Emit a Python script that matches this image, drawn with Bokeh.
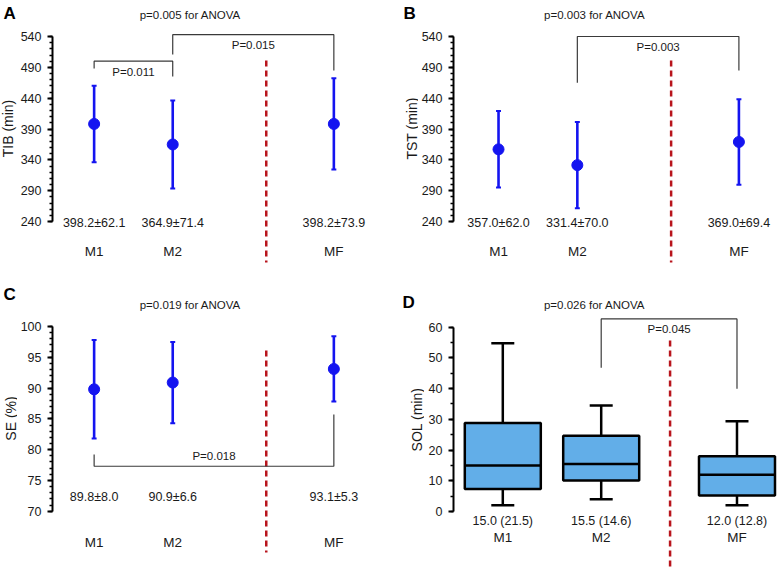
import numpy as np
from bokeh.plotting import figure
from bokeh.models import FixedTicker, ColumnDataSource, Range1d
from bokeh.layouts import column, row
from bokeh.core.properties import value
from bokeh.embed import file_html
from bokeh.resources import INLINE

# ---------------- data ----------------
groups = ["M1", "M2", "MF"]

tib_mean = [398.2, 364.9, 398.2]
tib_sd = [62.1, 71.4, 73.9]
tst_mean = [357.0, 331.4, 369.0]
tst_sd = [62.0, 70.0, 69.4]
se_mean = [89.8, 90.9, 93.1]
se_sd = [8.0, 6.6, 5.3]

sol_low = [2.0, 4.0, 2.0]
sol_q1 = [7.3, 10.1, 5.2]
sol_median = [15.0, 15.5, 12.0]
sol_q3 = [28.8, 24.7, 18.0]
sol_high = [54.8, 34.5, 29.4]
sol_iqr = [21.5, 14.6, 12.8]

anova_text = ["p=0.005 for ANOVA", "p=0.003 for ANOVA", "p=0.019 for ANOVA", "p=0.026 for ANOVA"]
panel_letters = ["A", "B", "C", "D"]
y_titles = ["TIB (min)", "TST (min)", "SE (%)", "SOL (min)"]

tib_ticks = [240, 290, 340, 390, 440, 490, 540]
se_ticks = [70, 75, 80, 85, 90, 95, 100]
sol_ticks = [0, 10, 20, 30, 40, 50, 60]

# pairwise comparisons: (group i, group j, bar level, leg end i, leg end j, label)
tib_pairs = [(0, 1, 500, 488, 475, "P=0.011"), (1, 2, 543, 511, 485, "P=0.015")]
tst_pairs = [(1, 2, 540, 465, 485, "P=0.003")]
se_pairs = [(0, 2, 77.3, 79.2, 85.7, "P=0.018")]
sol_pairs = [(1, 2, 62.7, 46.8, 40.0, "P=0.045")]

# ---------------- styling ----------------
BLUE = "#1414f0"
RED = "#b8141c"
TXT = "#1a1a1a"
FONT = "Liberation Sans"
BOX_FILL = "#62aee8"

pos_main = [1, 2, 4.05]
pos_sol = [1, 2, 3.38]


def bare(W, H, xr, yr, left=0):
    p = figure(width=W, height=H, x_range=xr, y_range=yr, output_backend="svg",
               toolbar_location=None, x_axis_location=None,
               y_axis_location=("left" if left else None),
               min_border_left=left, min_border_right=0, min_border_top=0,
               min_border_bottom=0)
    p.outline_line_color = None
    p.grid.visible = False
    p.background_fill_color = "white"
    p.border_fill_color = "white"
    return p


class Panel:
    def __init__(self, col_x0, col_w, thin_w, axis_x, first_x, sx, row_y0, H,
                 yv_top, ry_top, yv_bot, ry_bot, ticks, minor, bounds):
        self.col_x0, self.thin_w, self.axis_x, self.row_y0, self.H = col_x0, thin_w, axis_x, row_y0, H
        self.sx = sx
        W = col_w - thin_w
        L = axis_x - col_x0 - thin_w
        self.sy = (ry_bot - ry_top) / (yv_top - yv_bot)
        self.x0 = 1 - (first_x - axis_x) / sx
        self.x1 = self.x0 + (W - L) / sx
        self.y1 = yv_top + (ry_top - row_y0) / self.sy
        self.y0 = yv_bot - (row_y0 + H - ry_bot) / self.sy
        p = bare(W, H, Range1d(self.x0, self.x1), Range1d(self.y0, self.y1), left=L)
        ax = p.yaxis[0]
        ax.ticker = FixedTicker(ticks=ticks, minor_ticks=minor)
        ax.bounds = bounds
        ax.axis_line_width = 2
        ax.axis_line_color = "black"
        ax.major_tick_line_width = 2
        ax.major_tick_line_color = "black"
        ax.major_tick_out = 5
        ax.major_tick_in = 0
        ax.minor_tick_line_width = 1.5
        ax.minor_tick_line_color = "black"
        ax.minor_tick_out = 3
        ax.minor_tick_in = 0
        ax.major_label_standoff = 6
        ax.major_label_text_font = FONT
        ax.major_label_text_font_size = "12.5px"
        ax.major_label_text_color = TXT
        self.p = p
        self.t = bare(thin_w, H, Range1d(0, thin_w), Range1d(0, H))

    # reference-pixel -> data helpers
    def px(self, rx):
        return self.x0 + (rx - self.axis_x) / self.sx

    def py(self, ry):
        return self.y1 - (ry - self.row_y0) / self.sy

    def dy(self, pixels):
        return pixels / self.sy

    def decorate(self, letter, lx, ly, title, tx, ty, ylab, yx, yy):
        t = self.t
        t.text(x=[lx - self.col_x0], y=[self.H - (ly - self.row_y0)], text=[letter],
               text_font=value(FONT), text_font_style="bold", text_font_size=value("17px"),
               text_color="black", text_align="left", text_baseline="top")
        t.text(x=[yx - self.col_x0], y=[self.H - (yy - self.row_y0)], text=[ylab],
               angle=np.pi / 2, text_font=value(FONT), text_font_size=value("14px"),
               text_color=TXT, text_align="center", text_baseline="middle")
        self.p.text(x=[self.px(tx)], y=[self.py(ty)], text=[title],
                    text_font=value(FONT), text_font_size=value("11.5px"), text_color=TXT,
                    text_align="center", text_baseline="middle")

    def divider(self, x, ry_top, ry_bot):
        self.p.segment(x0=[x], y0=[self.py(ry_top)], x1=[x], y1=[self.py(ry_bot)],
                       line_color=RED, line_width=2.5, line_dash="6 4")

    def labels(self, pos, vals, ry_val, cats, ry_cat):
        p = self.p
        src = ColumnDataSource(dict(x=pos, v=vals, c=cats))
        p.text(x="x", y=self.py(ry_val), text="v", source=src, text_font=value(FONT),
               text_font_size=value("12.5px"), text_color=TXT,
               text_align="center", text_baseline="middle")
        p.text(x="x", y=self.py(ry_cat), text="c", source=src, text_font=value(FONT),
               text_font_size=value("13.5px"), text_color=TXT,
               text_align="center", text_baseline="middle")

    def brackets(self, pos, pairs, below=True):
        p = self.p
        for i, j, ybar, yi, yj, txt in pairs:
            xi, xj = pos[i], pos[j]
            p.line(x=[xi, xi, xj, xj], y=[yi, ybar, ybar, yj], line_color="#3a3a3a",
                   line_width=1.2)
            ty = ybar - self.dy(10.5) if below else ybar + self.dy(10.5)
            p.text(x=[(xi + xj) / 2], y=[ty], text=[txt], text_font=value(FONT),
                   text_font_size=value("11.5px"), text_color=TXT,
                   text_align="center", text_baseline="middle")

    def layout(self):
        return [self.t, self.p]


def mean_sd(pn, pos, mean, sd):
    p = pn.p
    lo = [m - s for m, s in zip(mean, sd)]
    hi = [m + s for m, s in zip(mean, sd)]
    cw = 2.5 / pn.sx
    p.segment(x0=pos, y0=lo, x1=pos, y1=hi, line_color=BLUE, line_width=2.6)
    p.segment(x0=[x - cw for x in pos], y0=hi, x1=[x + cw for x in pos], y1=hi,
              line_color=BLUE, line_width=2)
    p.segment(x0=[x - cw for x in pos], y0=lo, x1=[x + cw for x in pos], y1=lo,
              line_color=BLUE, line_width=2)
    p.scatter(x=pos, y=mean, size=11, color=BLUE)


def steps(a, b, step):
    n = int(round((b - a) / step))
    return [a + k * step for k in range(n + 1)]


ROW1, ROW2 = 0, 280
H1, H2 = 280, 287
COL1, COL2 = 0, 388
W1, W2 = 388, 389

# ---------------- Panel A ----------------
A = Panel(COL1, W1, 17, 49, 91, 79.3, ROW1, H1, 540, 36, 240, 221, tib_ticks,
          steps(240, 540, 10), (240, 540))
A.decorate(panel_letters[0], 3, 3, anova_text[0], 188, 14, y_titles[0], 7, 128)
A.divider(3.19, 60, 262)
mean_sd(A, pos_main, tib_mean, tib_sd)
A.brackets(pos_main, tib_pairs, below=True)
A.labels(pos_main, [f"{m:.1f}\u00b1{s:.1f}" for m, s in zip(tib_mean, tib_sd)],
         222, groups, 251)

# ---------------- Panel B ----------------
B = Panel(COL2, W2, 30, 451, 496.3, 79.3, ROW1, H1, 540, 36, 240, 221, tib_ticks,
          steps(240, 540, 10), (240, 540))
B.decorate(panel_letters[1], 403, 3, anova_text[1], 593, 14, y_titles[1], 411, 128)
B.divider(3.19, 60, 262)
mean_sd(B, pos_main, tst_mean, tst_sd)
B.brackets(pos_main, tst_pairs, below=True)
B.labels(pos_main, [f"{m:.1f}\u00b1{s:.1f}" for m, s in zip(tst_mean, tst_sd)],
         222, groups, 251)

# ---------------- Panel C ----------------
C = Panel(COL1, W1, 17, 49, 91, 79.3, ROW2, H2, 100, 326, 70, 510.7, se_ticks,
          steps(70, 100, 1), (70, 100))
C.decorate(panel_letters[2], 3, 284, anova_text[2], 188, 304, y_titles[2], 10, 418)
C.divider(3.19, 350, 552)
mean_sd(C, pos_main, se_mean, se_sd)
C.brackets(pos_main, se_pairs, below=False)
C.labels(pos_main, [f"{m:.1f}\u00b1{s:.1f}" for m, s in zip(se_mean, se_sd)],
         496.7, groups, 541.7)

# ---------------- Panel D ----------------
D = Panel(COL2, W2, 36, 453, 502.3, 98.4, ROW2, H2, 60, 326.7, 0, 511, sol_ticks,
          steps(0, 60, 5), (0, 60))
D.decorate(panel_letters[3], 402, 292, anova_text[3], 594, 304, y_titles[3], 416, 419)
D.divider(2.70, 340, 570)
pd_ = D.p
bw = 76 / D.sx
cap = 23 / D.sx
pd_.segment(x0=pos_sol, y0=sol_q3, x1=pos_sol, y1=sol_high, line_color="black", line_width=2.5)
pd_.segment(x0=pos_sol, y0=sol_q1, x1=pos_sol, y1=sol_low, line_color="black", line_width=2.5)
pd_.segment(x0=[x - cap / 2 for x in pos_sol], y0=sol_high, x1=[x + cap / 2 for x in pos_sol],
            y1=sol_high, line_color="black", line_width=2.5)
pd_.segment(x0=[x - cap / 2 for x in pos_sol], y0=sol_low, x1=[x + cap / 2 for x in pos_sol],
            y1=sol_low, line_color="black", line_width=2.5)
pd_.vbar(x=pos_sol, width=bw, top=sol_q3, bottom=sol_q1, fill_color=BOX_FILL,
         line_color="black", line_width=2.5)
pd_.segment(x0=[x - bw / 2 for x in pos_sol], y0=sol_median, x1=[x + bw / 2 for x in pos_sol],
            y1=sol_median, line_color="black", line_width=2.5)
D.brackets(pos_sol, sol_pairs, below=True)
D.labels(pos_sol, [f"{m:.1f} ({q:.1f})" for m, q in zip(sol_median, sol_iqr)],
         520, groups, 536.7)

layout = column(row(*A.layout(), *B.layout()), row(*C.layout(), *D.layout()))
open("out.html", "w").write(file_html(layout, INLINE))
